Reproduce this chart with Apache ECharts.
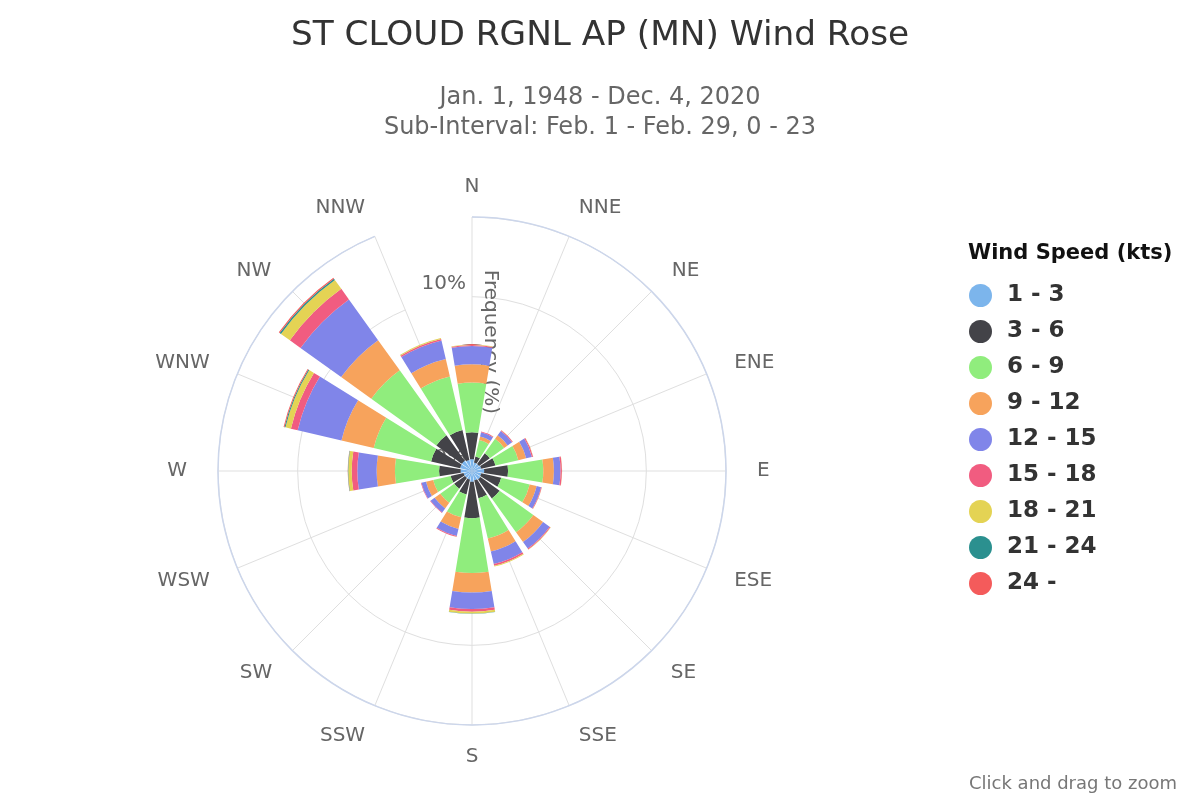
<!DOCTYPE html>
<html>
<head>
<meta charset="utf-8">
<script src="https://cdn.jsdelivr.net/npm/echarts@6/dist/echarts.min.js"></script>
<style>html,body{margin:0;padding:0;background:#fff}#c{width:1200px;height:800px}</style>
</head>
<body>
<div id="c"></div>
<script>
const directions = ['N','NNE','NE','ENE','E','ESE','SE','SSE','S','SSW','SW','WSW','W','WNW','NW','NNW'];
const speedBins = ['1 - 3','3 - 6','6 - 9','9 - 12','12 - 15','15 - 18','18 - 21','21 - 24','24 -'];
const binColors = ['#7cb5ec','#434348','#90ed7d','#f7a35c','#8085e9','#f15c80','#e4d354','#2b908f','#f45b5b'];

// frequency (%) per direction, one array per speed bin
const kt1to3   = [0.68,0.50,0.50,0.55,0.70,0.55,0.60,0.55,0.62,0.50,0.50,0.50,0.65,0.70,0.72,0.65];
const kt3to6   = [1.54,0.36,0.76,0.83,1.37,1.17,1.35,1.06,2.09,0.88,0.76,0.76,1.24,1.71,1.80,1.76];
const kt6to9   = [2.85,0.96,1.01,1.35,2.02,1.68,2.38,2.37,3.14,1.35,0.98,1.03,2.53,3.38,4.59,3.16];
const kt9to12  = [1.05,0.21,0.25,0.46,0.61,0.41,0.69,0.76,1.12,0.68,0.40,0.42,1.05,1.90,2.13,1.03];
const kt12to15 = [1.05,0.25,0.31,0.34,0.38,0.26,0.46,0.74,0.95,0.42,0.29,0.27,1.11,2.58,2.87,1.09];
const kt15to18 = [0.06,0.04,0.05,0.07,0.08,0.04,0.06,0.10,0.15,0.05,0.03,0.03,0.32,0.40,0.75,0.09];
const kt18to21 = [0.02,0.01,0.01,0.01,0.01,0.01,0.02,0.05,0.11,0.01,0.00,0.00,0.20,0.32,0.63,0.05];
const kt21to24 = [0.00,0.00,0.00,0.00,0.00,0.00,0.00,0.00,0.01,0.00,0.00,0.00,0.02,0.06,0.09,0.01];
const kt24up   = [0.00,0.00,0.00,0.00,0.00,0.00,0.00,0.00,0.00,0.00,0.00,0.00,0.01,0.05,0.06,0.00];
const binValues = [kt1to3,kt3to6,kt6to9,kt9to12,kt12to15,kt15to18,kt18to21,kt21to24,kt24up];

const radiusTicks = [0, 10];
const FONT = 'DejaVu Sans';

// label text styling nudges: [horizontal padding, lineHeight]
const labelStyle = {
  N:[0,20], NNE:[2,20], NE:[6,12], ENE:[9,6], E:[11,20], ESE:[9,10], SE:[5,16], SSE:[2,24],
  S:[0,24], SSW:[2,24], SW:[6,16], WSW:[9,10], W:[11,20], WNW:[9,6], NW:[7,12], NNW:[2,20]
};
const rightSide = ['NNE','NE','ENE','E','ESE','SE','SSE'];
const rich = {};
Object.keys(labelStyle).forEach(k => {
  const s = labelStyle[k][0];
  rich[k] = {fontSize:20, color:'#666', fontFamily:FONT, lineHeight:labelStyle[k][1],
    padding: rightSide.indexOf(k) >= 0 ? [0,0,0,s] : [0,s,0,0]};
});

const chart = echarts.init(document.getElementById('c'), null, {renderer:'canvas'});
chart.setOption({
  animation: false,
  backgroundColor: '#ffffff',
  title: [
    {text:'ST CLOUD RGNL AP (MN) Wind Rose', left:'center', top:14,
     textStyle:{fontFamily:FONT, fontSize:34.3, fontWeight:'normal', color:'#333'}},
    {text:'Jan. 1, 1948 - Dec. 4, 2020\nSub-Interval: Feb. 1 - Feb. 29, 0 - 23', left:'center', top:78,
     textStyle:{fontFamily:FONT, fontSize:24, lineHeight:30, fontWeight:'normal', color:'#666'}},
    {text:'Wind Speed (kts)', left:963, top:238,
     textStyle:{fontFamily:FONT, fontSize:21, fontWeight:'bold', color:'#111'}},
    {text:'Click and drag to zoom', right:18, bottom:2,
     textStyle:{fontFamily:FONT, fontSize:18, fontWeight:'normal', color:'#777'}}
  ],
  legend: {
    orient:'vertical', left:969, top:284, padding:0,
    icon:'circle', itemWidth:23, itemHeight:23, itemGap:13,
    data: speedBins,
    textStyle:{fontFamily:FONT, fontSize:23, fontWeight:'bold', color:'#333', padding:[0,0,0,10]}
  },
  polar: {center:[472,471], radius:254},
  angleAxis: {
    type:'category', data:directions, boundaryGap:false, startAngle:90, clockwise:true,
    axisLine:{show:true, lineStyle:{color:'#ccd6eb', width:1.5}},
    axisTick:{show:false},
    splitLine:{show:true, lineStyle:{color:'#dfdfdf', width:1}},
    axisLabel:{margin:20, fontFamily:FONT, fontSize:20, color:'#666',
      formatter: v => '{' + v + '|' + v + '}', rich: rich}
  },
  radiusAxis: {
    type:'value', min:0, max:14.57, interval:10,
    axisLine:{show:false}, axisTick:{show:false},
    splitLine:{show:true, lineStyle:{color:'#dfdfdf', width:1}},
    axisLabel:{margin:6, align:'right', verticalAlign:'bottom', padding:[0,0,3,0],
      fontFamily:FONT, fontSize:20, color:'#666',
      formatter: v => radiusTicks.indexOf(v) >= 0 ? v + '%' : ''}
  },
  graphic: [{
    type:'text', x:490, y:342, rotation:-Math.PI/2, z:1, silent:true,
    style:{text:'Frequency (%)', font:'20px "DejaVu Sans"', fill:'#666', align:'center', verticalAlign:'middle'}
  }],
  series: speedBins.map((name, i) => ({
    name: name, type:'bar', coordinateSystem:'polar', stack:'total',
    barCategoryGap:'17%',
    data: binValues[i],
    itemStyle:{color: binColors[i]},
    emphasis:{disabled:true},
    z: 2
  }))
});
</script>
</body>
</html>
